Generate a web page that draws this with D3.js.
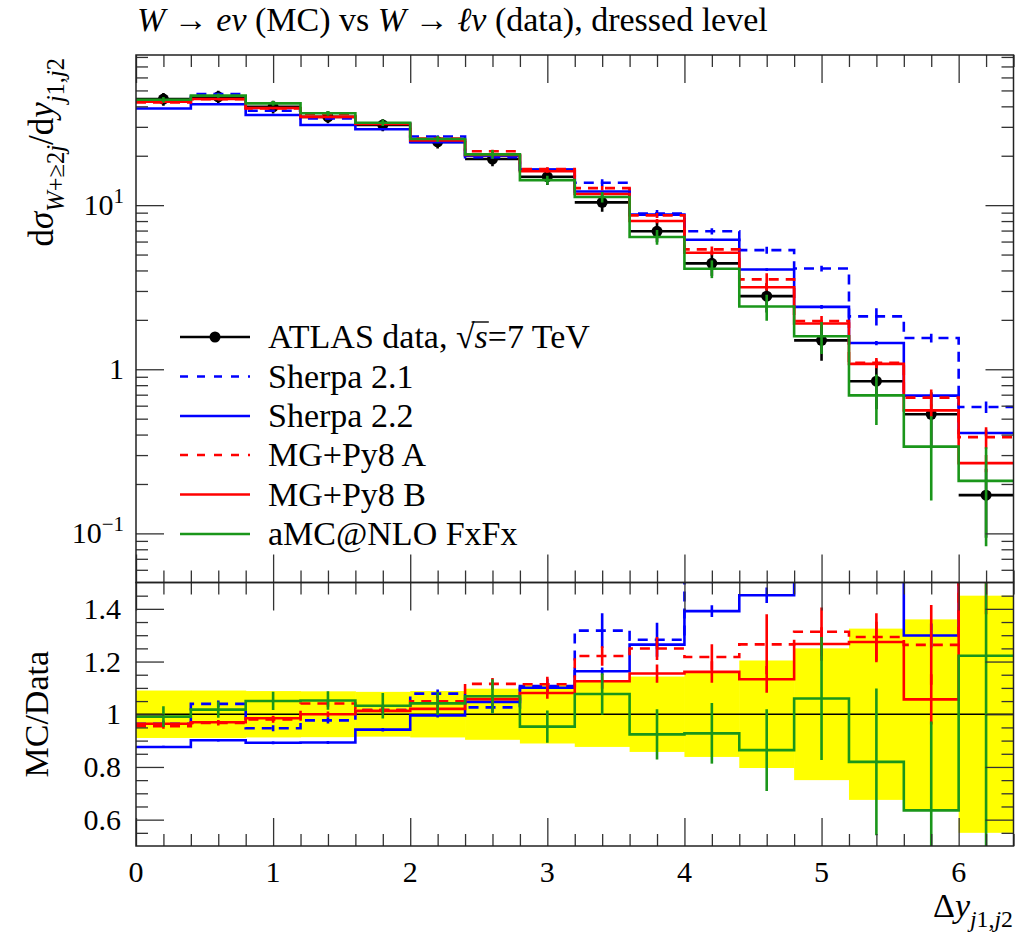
<!DOCTYPE html>
<html>
<head>
<meta charset="utf-8">
<script src="https://cdn.jsdelivr.net/npm/d3@7"></script>
<style>
body{margin:0;background:#fff}
svg text{font-family:"Liberation Serif","DejaVu Serif",serif;fill:#000}
</style>
</head>
<body>
<script>
// bins in delta y(j1,j2)
var binEdges = [0,0.4,0.8,1.2,1.6,2.0,2.4,2.8,3.2,3.6,4.0,4.4,4.8,5.2,5.6,6.0,6.4];

// ATLAS data and its relative uncertainty
var dataVal    = [44.3,45.7,39.7,34.5,30.8,24.3,19.1,14.9,10.4,6.93,4.42,2.79,1.50,0.846,0.532,0.171];
var dataRelErr = [0.09,0.09,0.088,0.087,0.085,0.088,0.097,0.111,0.124,0.143,0.162,0.204,0.25,0.325,0.36,0.45];

// MC predictions and their relative stat. errors
var sherpa21    = [42.7,47.5,37.6,33.7,31.3,26.2,19.6,16.5,13.7,8.89,6.93,5.32,4.11,2.10,1.55,0.589];
var sherpa21Err = [0.012,0.012,0.012,0.012,0.014,0.015,0.02,0.025,0.05,0.05,0.045,0.05,0.04,0.12,0.06,0.08];
var sherpa22    = [38.8,41.2,35.4,30.8,29.0,24.2,20.0,16.4,12.1,8.76,6.15,4.05,2.40,1.445,0.691,0.409];
var sherpa22Err = [0.005,0.005,0.006,0.006,0.007,0.008,0.009,0.01,0.012,0.014,0.016,0.02,0.025,0.03,0.035,0.045];
var mgA         = [42.3,44.2,38.9,35.9,31.3,25.5,21.3,16.6,12.7,8.66,5.38,3.53,1.97,1.094,0.672,0.386];
var mgAErr      = [0.01,0.01,0.012,0.012,0.015,0.018,0.02,0.025,0.03,0.035,0.04,0.09,0.07,0.07,0.12,0.15];
var mgB         = [42.7,44.3,39.1,34.5,31.2,24.8,20.2,16.1,11.7,8.00,5.13,3.16,1.90,1.078,0.562,0.268];
var mgBErr      = [0.008,0.008,0.01,0.01,0.012,0.014,0.016,0.02,0.025,0.03,0.035,0.045,0.05,0.06,0.09,0.12];
var amc         = [43.9,46.5,41.7,36.3,31.8,25.3,20.4,14.2,11.2,6.40,4.10,2.41,1.59,0.693,0.338,0.209];
var amcErr      = [0.04,0.03,0.033,0.033,0.047,0.042,0.061,0.064,0.073,0.103,0.124,0.18,0.22,0.34,0.53,0.6];

var seriesNames = ["Sherpa 2.1","Sherpa 2.2","MG+Py8 A","MG+Py8 B","aMC@NLO FxFx"];

// tick labels
var xTickVals  = [0,1,2,3,4,5,6];
var xTickText  = ["0","1","2","3","4","5","6"];
var yTickVals  = [0.1,1,10];
var yTickBase  = ["10","1","10"];
var yTickExp   = ["\u22121","","1"];
var rTickVals  = [0.6,0.8,1,1.2,1.4];
var rTickText  = ["0.6","0.8","1","1.2","1.4"];

var WIDTH = 1015, HEIGHT = 935;
var L = 136, R = 1013.5, TOP = 55, MID = 582.5, BOT = 846;
var FONT = 34, TICKFONT = 30;

var series = [
	{name:seriesNames[0], v:sherpa21, e:sherpa21Err, color:"#0000ff", dash:"10,7"},
	{name:seriesNames[1], v:sherpa22, e:sherpa22Err, color:"#0000ff", dash:null},
	{name:seriesNames[2], v:mgA, e:mgAErr, color:"#ff0000", dash:"10,7"},
	{name:seriesNames[3], v:mgB, e:mgBErr, color:"#ff0000", dash:null},
	{name:seriesNames[4], v:amc, e:amcErr, color:"#1a961a", dash:null}
];

var svg = d3.select("body").append("svg").attr("width",WIDTH).attr("height",HEIGHT);

var x  = d3.scaleLinear().domain([0,6.4]).range([L,R]);
var y  = d3.scaleLog().domain([0.0502,82.2]).range([MID,TOP]);
var yr = d3.scaleLinear().domain([0.5,1.5]).range([BOT,MID]);

var defs = svg.append("defs");
defs.append("clipPath").attr("id","clipTop").append("rect")
	.attr("x",L).attr("y",TOP).attr("width",R-L).attr("height",MID-TOP);
defs.append("clipPath").attr("id","clipRat").append("rect")
	.attr("x",L).attr("y",MID).attr("width",R-L).attr("height",BOT-MID);

// rich text helper (italic / sub / sup parts)
var rich = function(sel, parts, size){
	var cur = 0;
	parts.forEach(function(p){
		var off = p.sub ? size*0.3 : (p.sup ? -size*0.4 : 0);
		sel.append("tspan").attr("dy", off-cur)
			.style("font-size", (p.sub||p.sup) ? size*0.7+"px" : size+"px")
			.style("font-style", p.it ? "italic" : "normal")
			.text(p.t);
		cur = off;
	});
	return sel;
};

var stepPts = function(vals){
	var p = vals.map(function(v,i){return [binEdges[i],v]});
	p.push([binEdges[binEdges.length-1], vals[vals.length-1]]);
	return p;
};
var centers = binEdges.slice(0,-1).map(function(b,i){return (b+binEdges[i+1])/2});

// ---------- top panel ----------
var gTop = svg.append("g").attr("clip-path","url(#clipTop)");
var lineTop = d3.line().x(function(d){return x(d[0])}).y(function(d){return y(d[1])}).curve(d3.curveStepAfter);

// data
gTop.selectAll(".dh").data(dataVal).enter().append("line")
	.attr("x1",function(d,i){return x(binEdges[i])}).attr("x2",function(d,i){return x(binEdges[i+1])})
	.attr("y1",function(d){return y(d)}).attr("y2",function(d){return y(d)})
	.attr("stroke","#000").attr("stroke-width",2.6);
gTop.selectAll(".dv").data(dataVal).enter().append("line")
	.attr("x1",function(d,i){return x(centers[i])}).attr("x2",function(d,i){return x(centers[i])})
	.attr("y1",function(d,i){return y(d*(1+dataRelErr[i]))}).attr("y2",function(d,i){return y(d*(1-dataRelErr[i]))})
	.attr("stroke","#000").attr("stroke-width",2.6);
gTop.selectAll(".dp").data(dataVal).enter().append("circle")
	.attr("cx",function(d,i){return x(centers[i])}).attr("cy",function(d){return y(d)})
	.attr("r",5.5).attr("fill","#000");

series.forEach(function(s){
	gTop.append("path").datum(stepPts(s.v)).attr("d",lineTop)
		.attr("fill","none").attr("stroke",s.color).attr("stroke-width",2.6)
		.attr("stroke-dasharray",s.dash);
	gTop.selectAll(null).data(s.v).enter().append("line")
		.attr("x1",function(d,i){return x(centers[i])}).attr("x2",function(d,i){return x(centers[i])})
		.attr("y1",function(d,i){return y(d*(1+s.e[i]))}).attr("y2",function(d,i){return y(Math.max(d*(1-s.e[i]),1e-4))})
		.attr("stroke",s.color).attr("stroke-width",2.6);
});

// ---------- ratio panel ----------
var gRat = svg.append("g").attr("clip-path","url(#clipRat)");
gRat.selectAll(".band").data(dataRelErr).enter().append("rect")
	.attr("x",function(d,i){return x(binEdges[i])})
	.attr("width",function(d,i){return x(binEdges[i+1])-x(binEdges[i])+0.5})
	.attr("y",function(d){return yr(1+d)})
	.attr("height",function(d){return yr(1-d)-yr(1+d)})
	.attr("fill","#ffff00");
gRat.append("line").attr("x1",L).attr("x2",R).attr("y1",yr(1)).attr("y2",yr(1))
	.attr("stroke","#000").attr("stroke-width",1.3);

var lineRat = d3.line().x(function(d){return x(d[0])}).y(function(d){return yr(d[1])}).curve(d3.curveStepAfter);
series.forEach(function(s){
	var rv = s.v.map(function(v,i){return v/dataVal[i]});
	gRat.append("path").datum(stepPts(rv)).attr("d",lineRat)
		.attr("fill","none").attr("stroke",s.color).attr("stroke-width",2.6)
		.attr("stroke-dasharray",s.dash);
	gRat.selectAll(null).data(s.v).enter().append("line")
		.attr("x1",function(d,i){return x(centers[i])}).attr("x2",function(d,i){return x(centers[i])})
		.attr("y1",function(d,i){return yr(d*(1+s.e[i])/dataVal[i])}).attr("y2",function(d,i){return yr(d*(1-s.e[i])/dataVal[i])})
		.attr("stroke",s.color).attr("stroke-width",2.6);
});

// ---------- axes / ticks ----------
var tickStroke = function(g){
	g.select(".domain").remove();
	g.selectAll(".tick line").attr("stroke","#333").attr("stroke-width",1.3);
	g.selectAll(".tick text").remove();
};
var xMinor = d3.range(0,6.41,0.2).filter(function(v){return Math.abs(v-Math.round(v))>1e-6});
var logMinor = [];
[0.01,0.1,1,10].forEach(function(dec){ for(var k=2;k<10;k++){ var v=k*dec; if(v>0.0502 && v<82.2) logMinor.push(v);} });
var rMinor = d3.range(0.55,1.5,0.05).filter(function(v){return Math.abs(v*5-Math.round(v*5))>1e-6});

[[TOP,MID],[MID,BOT]].forEach(function(p){
	svg.append("g").attr("transform","translate(0,"+p[0]+")")
		.call(d3.axisTop(x).tickValues(xTickVals).tickSize(-28)).call(tickStroke);
	svg.append("g").attr("transform","translate(0,"+p[0]+")")
		.call(d3.axisTop(x).tickValues(xMinor).tickSize(-12)).call(tickStroke);
	svg.append("g").attr("transform","translate(0,"+p[1]+")")
		.call(d3.axisBottom(x).tickValues(xTickVals).tickSize(-28)).call(tickStroke);
	svg.append("g").attr("transform","translate(0,"+p[1]+")")
		.call(d3.axisBottom(x).tickValues(xMinor).tickSize(-12)).call(tickStroke);
});
svg.append("g").attr("transform","translate("+L+",0)").call(d3.axisLeft(y).tickValues(yTickVals).tickSize(-28)).call(tickStroke);
svg.append("g").attr("transform","translate("+L+",0)").call(d3.axisLeft(y).tickValues(logMinor).tickSize(-12)).call(tickStroke);
svg.append("g").attr("transform","translate("+R+",0)").call(d3.axisRight(y).tickValues(yTickVals).tickSize(-28)).call(tickStroke);
svg.append("g").attr("transform","translate("+R+",0)").call(d3.axisRight(y).tickValues(logMinor).tickSize(-12)).call(tickStroke);
svg.append("g").attr("transform","translate("+L+",0)").call(d3.axisLeft(yr).tickValues(rTickVals).tickSize(-28)).call(tickStroke);
svg.append("g").attr("transform","translate("+L+",0)").call(d3.axisLeft(yr).tickValues(rMinor).tickSize(-12)).call(tickStroke);
svg.append("g").attr("transform","translate("+R+",0)").call(d3.axisRight(yr).tickValues(rTickVals).tickSize(-28)).call(tickStroke);
svg.append("g").attr("transform","translate("+R+",0)").call(d3.axisRight(yr).tickValues(rMinor).tickSize(-12)).call(tickStroke);

// frames
svg.append("rect").attr("x",L).attr("y",TOP).attr("width",R-L).attr("height",MID-TOP)
	.attr("fill","none").attr("stroke","#222").attr("stroke-width",1.5);
svg.append("rect").attr("x",L).attr("y",MID).attr("width",R-L).attr("height",BOT-MID)
	.attr("fill","none").attr("stroke","#222").attr("stroke-width",1.5);

// tick labels
svg.selectAll(".xl").data(xTickVals).enter().append("text")
	.attr("x",function(d){return x(d)}).attr("y",882)
	.attr("text-anchor","middle").style("font-size",TICKFONT+"px")
	.text(function(d,i){return xTickText[i]});
yTickVals.forEach(function(v,i){
	var t = svg.append("text").attr("x",124).attr("y",y(v)+10).attr("text-anchor","end");
	var parts = [{t:yTickBase[i]}];
	if(yTickExp[i]) parts.push({t:yTickExp[i], sup:true});
	rich(t, parts, TICKFONT);
});
svg.selectAll(".rl").data(rTickVals).enter().append("text")
	.attr("x",121).attr("y",function(d){return yr(d)+10})
	.attr("text-anchor","end").style("font-size",TICKFONT+"px")
	.text(function(d,i){return rTickText[i]});

// title
rich(svg.append("text").attr("x",137).attr("y",31), [
	{t:"W",it:true},{t:" \u2192 "},{t:"e\u03bd",it:true},{t:" (MC) vs "},
	{t:"W",it:true},{t:" \u2192 "},{t:"\u2113\u03bd",it:true},{t:" (data), dressed level"}
], FONT);

// axis labels
rich(svg.append("text").attr("transform","translate(53,"+(TOP+3)+") rotate(-90)").attr("text-anchor","end"), [
	{t:"d"},{t:"\u03c3",it:true},{t:"W",it:true,sub:true},{t:"+\u22652",sub:true},{t:"j",it:true,sub:true},
	{t:"/d"},{t:"y",it:true},{t:"j",it:true,sub:true},{t:"1,",sub:true},{t:"j",it:true,sub:true},{t:"2",sub:true}
], 35);
rich(svg.append("text").attr("transform","translate(48,"+yr(1)+") rotate(-90)").attr("text-anchor","middle"), [
	{t:"MC/Data"}
], FONT);
rich(svg.append("text").attr("x",1013).attr("y",917).attr("text-anchor","end"), [
	{t:"\u0394"},{t:"y",it:true},{t:"j",it:true,sub:true},{t:"1,",sub:true},{t:"j",it:true,sub:true},{t:"2",sub:true}
], FONT);

// legend
var legY = [337,376.5,416,455,494.5,534];
var leg = svg.append("g");
leg.append("line").attr("x1",180).attr("x2",250).attr("y1",legY[0]).attr("y2",legY[0])
	.attr("stroke","#000").attr("stroke-width",2.6);
leg.append("circle").attr("cx",215).attr("cy",legY[0]).attr("r",5.5).attr("fill","#000");
var preTxt = "ATLAS data, \u221a";
var atl = leg.append("text").attr("x",268).attr("y",legY[0]+11).style("font-size",FONT+"px");
atl.append("tspan").text(preTxt);
atl.append("tspan").style("font-style","italic").text("s");
atl.append("tspan").text("=7 TeV");
// radical bar over the s
var preW = atl.node().getSubStringLength(0, preTxt.length);
var sW = atl.node().getSubStringLength(preTxt.length, 1);
leg.append("line").attr("x1",268+preW-3).attr("x2",268+preW+sW+1)
	.attr("y1",legY[0]-15).attr("y2",legY[0]-15).attr("stroke","#000").attr("stroke-width",1.4);
series.forEach(function(s,i){
	var yy = legY[i+1];
	leg.append("line").attr("x1",180).attr("x2",250).attr("y1",yy).attr("y2",yy)
		.attr("stroke",s.color).attr("stroke-width",2.6).attr("stroke-dasharray",s.dash ? "8,9" : null);
	leg.append("text").attr("x",268).attr("y",yy+11).style("font-size",FONT+"px").text(s.name);
});
</script>
</body>
</html>
